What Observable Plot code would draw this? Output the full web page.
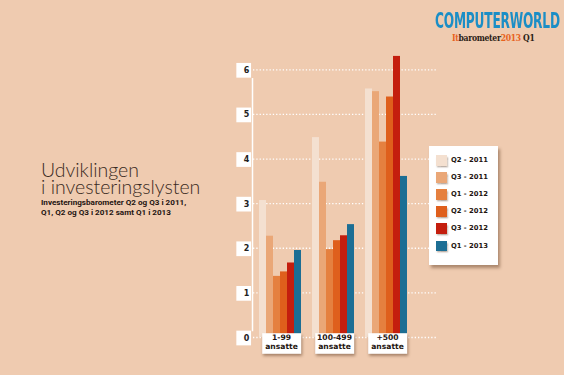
<!DOCTYPE html>
<html><head><meta charset="utf-8">
<script src="https://cdn.jsdelivr.net/npm/d3@7"></script>
<script src="https://cdn.jsdelivr.net/npm/@observablehq/plot@0.6"></script>
<style>
body{margin:0;background:#efcbb0;}
#wrap{position:relative;width:564px;height:375px;overflow:hidden;background:#efcbb0;font-family:"DejaVu Sans",sans-serif;}
#chart{position:absolute;left:0;top:0;}
g[aria-label="ybox"], g[aria-label="catbox"]{filter:drop-shadow(1.5px 2px 1.5px rgba(70,35,10,0.45));}
.title{position:absolute;left:41px;font-family:Lato,sans-serif;font-weight:300;font-size:19.5px;line-height:17.6px;height:17.6px;color:#3a2a22;white-space:nowrap;}
#subtitle{position:absolute;left:41px;top:198px;font-family:Roboto,sans-serif;font-weight:700;font-size:8.1px;line-height:9.7px;color:#1e1410;white-space:nowrap;}
#logo1{position:absolute;left:435px;top:9.5px;font-family:"Liberation Sans Narrow","DejaVu Sans Condensed",sans-serif;font-weight:bold;font-size:22px;line-height:22px;color:#1b8ec6;white-space:nowrap;transform:scaleX(0.615);transform-origin:0 0;letter-spacing:-0.3px;}
#logo2{position:absolute;left:452px;top:32.5px;font-family:"DejaVu Serif Condensed","DejaVu Serif",serif;font-weight:bold;font-size:8.5px;line-height:10px;color:#2b1d16;white-space:nowrap;letter-spacing:-0.3px;}
#logo2 .o{color:#e8621d;}
#legend{position:absolute;left:429px;top:146px;width:69px;height:119px;background:#fff;box-shadow:2px 3px 3px rgba(70,35,10,0.4);}
.lrow{position:absolute;left:7px;height:11px;}
.lsw{position:absolute;left:0;top:0;width:10.7px;height:10.5px;box-shadow:1px 1.5px 1.5px rgba(70,35,10,0.35);}
.llab{position:absolute;left:15px;top:0;font-family:"DejaVu Sans",sans-serif;font-weight:bold;font-size:6.8px;line-height:11px;color:#1e1410;white-space:nowrap;}
</style>
</head><body>
<div id="wrap">
  <div id="chart"></div>
  <div class="title" style="top:160.5px">Udviklingen</div>
  <div class="title" style="top:178.1px">i investeringslysten</div>
  <div id="subtitle">Investeringsbarometer Q2 og Q3 i 2011,<br>Q1, Q2 og Q3 i 2012 samt Q1 i 2013</div>
  <div id="logo1">COMPUTERWORLD</div>
  <div id="logo2"><span class="o">It</span>barometer<span class="o">2013</span> Q1</div>
  <div id="legend"></div>
</div>
<script>
const groups = ["1-99", "100-499", "+500"];
const groupSub = "ansatte";
const series = ["Q2 - 2011", "Q3 - 2011", "Q1 - 2012", "Q2 - 2012", "Q3 - 2012", "Q1 - 2013"];
const colors = ["#f4e0d0", "#eaa777", "#e5803f", "#df5f1c", "#c41e0e", "#1c6e94"];
const values_1_99 = [3.07, 2.27, 1.37, 1.47, 1.67, 1.95];
const values_100_499 = [4.48, 3.48, 1.97, 2.17, 2.28, 2.53];
const values_500 = [5.57, 5.51, 4.38, 5.39, 6.30, 3.61];
const yTicks = [0, 1, 2, 3, 4, 5, 6];

const groupValues = [values_1_99, values_100_499, values_500];
const data = groups.flatMap((g, gi) => series.map((s, si) => ({group: g, series: s, value: groupValues[gi][si]})));
const firstGroup = () => groups[0];

const plot = Plot.plot({
  width: 564, height: 375,
  marginLeft: 253, marginRight: 126, marginTop: 69.3, marginBottom: 38,
  style: {background: "transparent", overflow: "visible"},
  fx: {domain: groups, axis: null, paddingInner: 0.164, paddingOuter: 0.306, align: 0.15},
  x: {domain: series, axis: null, paddingInner: 0.06, paddingOuter: 0},
  y: {domain: [0, 6], axis: null},
  color: {domain: series, range: colors},
  marks: [
    Plot.ruleY(yTicks, {y: d => d, fx: firstGroup, insetLeft: -5, insetRight: -135, stroke: "white", strokeWidth: 1.3, strokeDasharray: "1.3,2"}),
    Plot.frame({anchor: "left", stroke: "white", strokeWidth: 1.5, dx: -6, insetTop: 9, insetBottom: 7, facet: "super"}),
    Plot.dot(yTicks, {y: d => d, fx: firstGroup, frameAnchor: "left", dx: -14.8, dy: 0.5, symbol: "square", r: 8.3, fill: "white", stroke: "none", ariaLabel: "ybox"}),
    Plot.text(yTicks, {y: d => d, fx: firstGroup, text: d => String(d), frameAnchor: "left", dx: -14.8, dy: 0.5, fontWeight: "bold", fontSize: 8, fill: "#222", fontFamily: "DejaVu Sans"}),
    Plot.barY(data, {fx: "group", x: "series", y: "value", fill: "series"}),
    Plot.frame({fill: "white", stroke: "none", insetLeft: 3.7, insetRight: 1.3, insetTop: 263.4, insetBottom: -16.3, ariaLabel: "catbox"}),
    Plot.text(groups, {fx: d => d, text: d => d + "\n" + groupSub, frameAnchor: "bottom", lineAnchor: "top", dx: 1, dy: -3, fontWeight: "bold", fontSize: 7.6, lineHeight: 1.08, fill: "#1e1410", fontFamily: "DejaVu Sans"})
  ]
});
document.getElementById("chart").appendChild(plot);

const legend = document.getElementById("legend");
series.forEach((s, i) => {
  const row = document.createElement("div");
  row.className = "lrow";
  row.style.top = (9 + i * 17.1) + "px";
  const sw = document.createElement("div");
  sw.className = "lsw";
  sw.style.background = colors[i];
  const lab = document.createElement("div");
  lab.className = "llab";
  lab.textContent = s;
  row.appendChild(sw); row.appendChild(lab);
  legend.appendChild(row);
});
</script>
</body></html>
